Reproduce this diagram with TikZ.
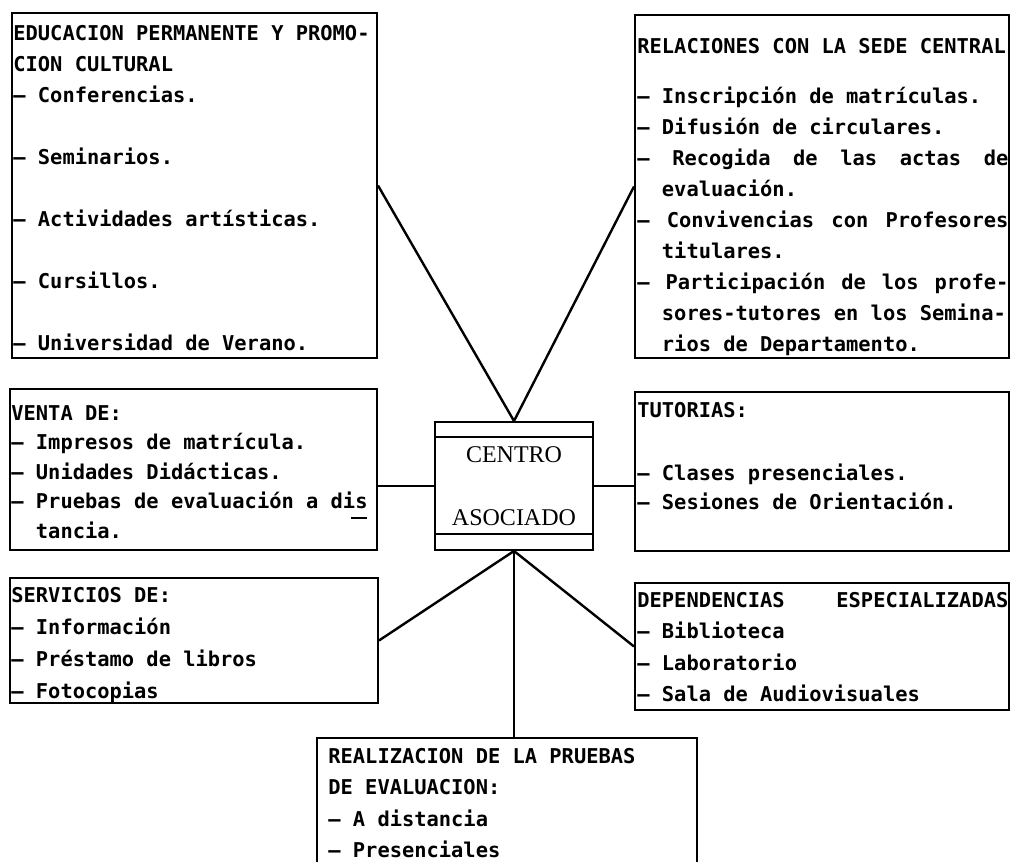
\documentclass[tikz,border=0pt]{standalone}
\usepackage{fontspec}
\newfontfamily\typefont{DejaVu Sans Mono}
\newfontfamily\centrofont{Liberation Serif}
\usetikzlibrary{fit}
\usetikzlibrary{positioning}

\newcommand\topstrut{\rule{0pt}{10pt}}
\newcommand\ind{\phantom{xx}}
\newcommand\jline[1]{\hbox to 185.5pt{#1}}
\newcommand\undr[1]{\rlap{\hspace{-2pt}\rule[-5pt]{8pt}{0.9pt}}#1}

\tikzset{
  panel/.style={draw, line width=1pt, inner sep=0pt},
  listtext/.style={anchor=north west, inner sep=0pt, align=left,
    font=\typefont\bfseries\fontsize{10.2}{#1}\selectfont},
  listtext/.default=15.5pt,
  link/.style={line width=1.2pt}
}

\begin{document}
\begin{tikzpicture}[x=0.5pt,y=-0.5pt]
      \useasboundingbox (0,0) rectangle (1014,862);
      \clip (0,0) rectangle (1014,862);
      % boxes
      \node[panel, fit={(12,13) (377,358)}] (edu) {};
      \node[panel, fit={(635,15) (1009,358)}] (rel) {};
      \node[panel, fit={(10,389) (377,550)}] (venta) {};
      \node[panel, fit={(635,392) (1009,551)}] (tut) {};
      \node[panel, fit={(435,422) (593,550)}] (centro) {};
      \node[panel, fit={(10,578) (378,703)}] (serv) {};
      \node[panel, fit={(635,583) (1009,710)}] (dep) {};
      \node[panel, fit={(317,738) (697,890)}] (real) {};
      \draw[line width=0.8pt] ([yshift=-8pt]centro.north west) -- ([yshift=-8pt]centro.north east)
            ([yshift=8.5pt]centro.south west) -- ([yshift=8.5pt]centro.south east);
      \node[align=center, font=\centrofont\fontsize{12}{31.5}\selectfont] (centrotxt)
            at (centro.center) {CENTRO\\ASOCIADO};
      % texts
      \node[listtext] (edutxt) at (13,20) {\topstrut EDUCACION PERMANENTE Y PROMO-\\
            CION CULTURAL\\
            – Conferencias.\\[15.5pt]
            – Seminarios.\\[15.5pt]
            – Actividades artísticas.\\[15.5pt]
            – Cursillos.\\[15.5pt]
            – Universidad de Verano.};
      \node[listtext] (reltxt) at (637,33) {\topstrut RELACIONES CON LA SEDE CENTRAL\\[9.5pt]
            – Inscripción de matrículas.\\
            – Difusión de circulares.\\
            \jline{–\hfill Recogida\hfill de\hfill las\hfill actas\hfill de}\\
            \ind evaluación.\\
            \jline{–\hfill Convivencias\hfill con\hfill Profesores}\\
            \ind titulares.\\
            \jline{–\hfill Participación\hfill de\hfill los\hfill profe-}\\
            \ind sores-tutores en los Semina-\\
            \ind rios de Departamento.};
      \node[listtext=14.75pt] (ventatxt) at (11,400) {\topstrut VENTA DE:\\
            – Impresos de matrícula.\\
            – Unidades Didácticas.\\
            – Pruebas de evaluación a di\undr{s}\\
            \ind tancia.};
      \node[listtext] (tuttxt) at (637,397) {\topstrut TUTORIAS:\\[16pt]
            – Clases presenciales.\\[-1pt]
            – Sesiones de Orientación.};
      \node[listtext=16pt] (servtxt) at (11,582) {\topstrut SERVICIOS DE:\\
            – Información\\
            – Préstamo de libros\\
            – Fotocopias};
      \node[listtext=15.75pt] (deptxt) at (637,587) {\topstrut\jline{DEPENDENCIAS\hfill ESPECIALIZADAS}\\
            – Biblioteca\\
            – Laboratorio\\
            – Sala de Audiovisuales};
      \node[listtext=15.75pt] (realtxt) at (328,743) {\topstrut REALIZACION DE LA PRUEBAS\\
            DE EVALUACION:\\
            – A distancia\\
            – Presenciales};
      % connectors
      \foreach \from/\to in {centro.north/edu.east, centro.north/rel.west,
                             centro.south/serv.east, centro.south/dep.west}
        \draw[link] (\from) -- (\to);
      \draw[link] (centro.west) -- (centro.west -| venta.east);
      \draw[link] (centro.east) -- (centro.east -| tut.west);
      \draw[link] (centro.south) -- (centro.south |- real.north);
    \end{tikzpicture}
\end{document}
